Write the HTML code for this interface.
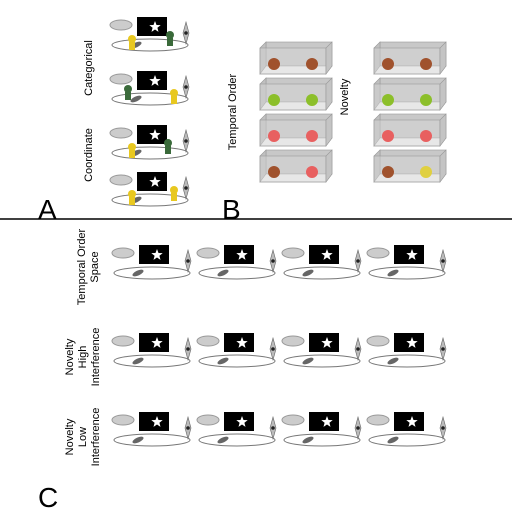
<!DOCTYPE html>
<html><head><meta charset="utf-8"><style>
body{margin:0;background:#fff;width:512px;height:512px;overflow:hidden}
svg{display:block;font-family:"Liberation Sans",sans-serif}
</style></head><body>
<svg id="fig" width="512" height="512" viewBox="0 0 512 512">
<line x1="0" y1="219" x2="512" y2="219" stroke="#000" stroke-width="1.5"/>
<text x="38" y="219" font-size="28">A</text>
<text x="222" y="219" font-size="28">B</text>
<text x="38" y="507" font-size="28">C</text>
<text transform="translate(92,68) rotate(-90)" text-anchor="middle" font-size="11">Categorical</text>
<text transform="translate(92,155) rotate(-90)" text-anchor="middle" font-size="11">Coordinate</text>
<text transform="translate(236,112) rotate(-90)" text-anchor="middle" font-size="11">Temporal Order</text>
<text transform="translate(348,97) rotate(-90)" text-anchor="middle" font-size="11">Novelty</text>
<text transform="translate(85,267) rotate(-90)" text-anchor="middle" font-size="11"><tspan x="0" dy="0">Temporal Order</tspan><tspan x="0" dy="13">Space</tspan></text>
<text transform="translate(73,357) rotate(-90)" text-anchor="middle" font-size="11"><tspan x="0" dy="0">Novelty</tspan><tspan x="0" dy="13">High</tspan><tspan x="0" dy="13">Interference</tspan></text>
<text transform="translate(73,437) rotate(-90)" text-anchor="middle" font-size="11"><tspan x="0" dy="0">Novelty</tspan><tspan x="0" dy="13">Low</tspan><tspan x="0" dy="13">Interference</tspan></text>
<g id="scenes"></g>
</svg>
<script>
const NS="http://www.w3.org/2000/svg";
const root=document.getElementById('scenes');
function el(t,a,p){const e=document.createElementNS(NS,t);for(const k in a)e.setAttribute(k,a[k]);(p||root).appendChild(e);return e;}
function star(cx,cy,r){let pts=[];for(let i=0;i<10;i++){const rr=i%2?r*0.42:r;const a=-Math.PI/2+i*Math.PI/5;pts.push((cx+rr*Math.cos(a)).toFixed(1)+','+(cy+rr*Math.sin(a)).toFixed(1));}return pts.join(' ');}
function scene(x,y,name,toys){
 const g=el('g',{});
 
 
 el('ellipse',{cx:x+40,cy:y+28,rx:38,ry:6,fill:'none',stroke:'#777','stroke-width':1},g);
 el('ellipse',{cx:x+11,cy:y+8,rx:11,ry:5,fill:'#ccc',stroke:'#999'},g);
 el('rect',{x:x+27,y:y,width:30,height:19,fill:'#000'},g);
 el('polygon',{points:star(x+45,y+10,6),fill:'#fff'},g);
 el('path',{d:`M${x+76} ${y+5} L${x+79} ${y+16} L${x+76} ${y+27} L${x+73} ${y+16} Z`,fill:'#bbb',stroke:'#666','stroke-width':0.6},g);
 el('circle',{cx:x+76,cy:y+16,r:1.8,fill:'#222'},g);
 el('ellipse',{cx:x+26,cy:y+28,rx:6,ry:2.5,fill:'#666',transform:`rotate(-25 ${x+26} ${y+28})`},g);
 (toys||[]).forEach(t=>{el('circle',{cx:x+t[0],cy:y+t[1],r:4,fill:t[2]},g);el('rect',{x:x+t[0]-3,y:y+t[1]+3,width:6,height:8,fill:t[2]},g);});
}
const aRows=[17,71,125,172];
const aToys=[[[22,22,'#e8c820'],[60,18,'#3a6a3a']],[[18,18,'#3a6a3a'],[64,22,'#e8c820']],[[22,22,'#e8c820'],[58,18,'#3a6a3a']],[[22,22,'#e8c820'],[64,18,'#e8c820']]];
aRows.forEach((ry,i)=>scene(110,ry,'panel-a-scene-'+(i+1),aToys[i]));
const cRows=[245,333,412];const cCols=[112,197,282,367];
cRows.forEach((ry,r)=>cCols.forEach((cx,c)=>scene(cx,ry,'panel-c-scene-'+(r+1)+'-'+(c+1),[])));
const bCols=[260,374];const bRows=[42,78,114,150];
const bColors=[['#a0522d','#a0522d'],['#8cbf2a','#8cbf2a'],['#e86060','#e86060']];
bCols.forEach((bx,c)=>bRows.forEach((by,r)=>{
 const g=el('g',{});
 
 
 el('rect',{x:bx+6,y:by,width:66,height:24,fill:'#c8c8c8',stroke:'#999','stroke-width':0.6},g);
 el('polygon',{points:`${bx},${by+6} ${bx+6},${by} ${bx+6},${by+24} ${bx},${by+32}`,fill:'#c0c0c0',stroke:'#999','stroke-width':0.6},g);
 el('polygon',{points:`${bx},${by+32} ${bx+6},${by+24} ${bx+72},${by+24} ${bx+66},${by+32}`,fill:'#f4f4f4',stroke:'#999','stroke-width':0.6},g);
 el('rect',{x:bx,y:by+6,width:66,height:26,fill:'rgba(215,215,215,0.45)',stroke:'#999','stroke-width':0.6},g);
 el('polygon',{points:`${bx+66},${by+6} ${bx+72},${by} ${bx+72},${by+24} ${bx+66},${by+32}`,fill:'#c4c4c4',stroke:'#999','stroke-width':0.6},g);
 let cols=r<3?bColors[r]:(c===0?['#a0522d','#e86060']:['#a0522d','#e0d040']);
 [[bx+14,cols[0]],[bx+52,cols[1]]].forEach(t=>el('ellipse',{cx:t[0],cy:by+22,rx:6,ry:6,fill:t[1]},g));
}));
</script>
</body></html>
